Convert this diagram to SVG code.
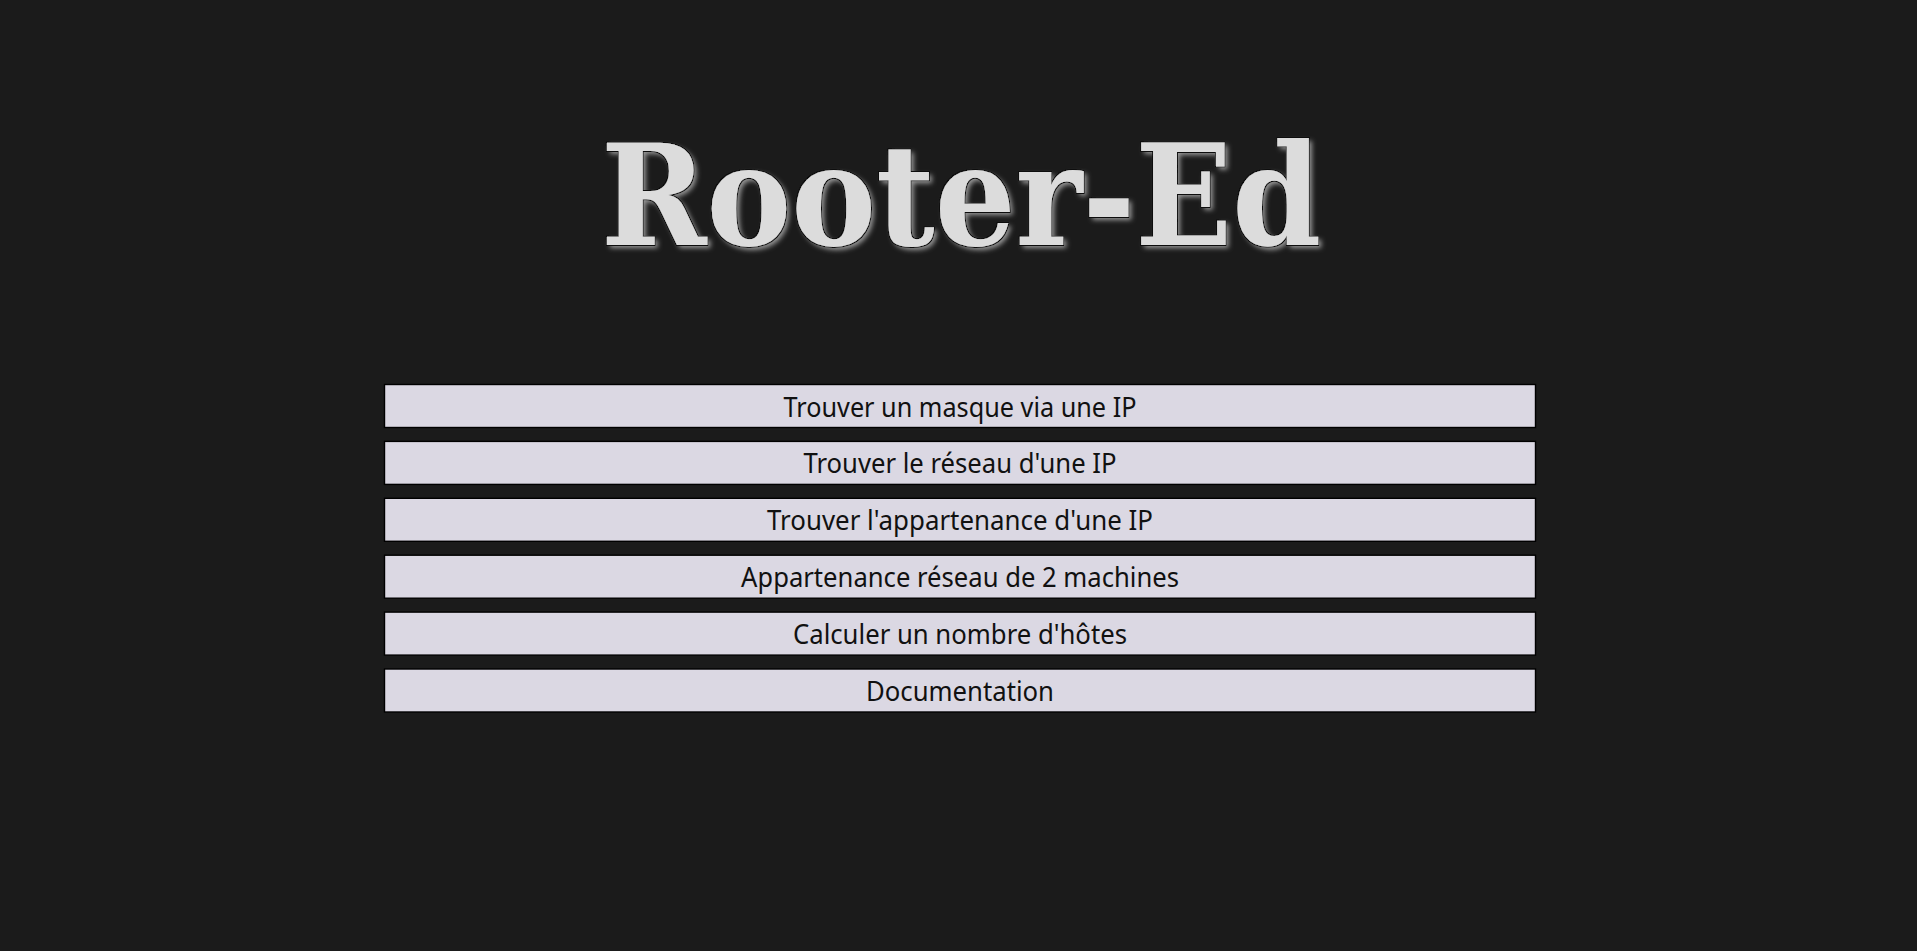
<svg xmlns="http://www.w3.org/2000/svg" width="1917" height="951" viewBox="0 0 1917 951">
<defs>
<style>
.bg{fill:#1b1b1b}
.btn rect{fill:#dbd8e3;stroke:#000;stroke-width:1.4}
.btn text{font-family:"Noto Sans","Open Sans","DejaVu Sans",sans-serif;font-size:27px;fill:#111;text-anchor:middle}
.title{font-family:"DejaVu Serif Condensed","DejaVu Serif",serif;font-weight:bold;font-stretch:condensed;font-size:141px;fill:#dcdcdc;text-anchor:middle}
</style>
<filter id="ts" x="-10%" y="-20%" width="120%" height="140%">
<feOffset in="SourceAlpha" dx="3" dy="3" result="o"/>
<feGaussianBlur in="o" stdDeviation="2.5" result="b"/>
<feFlood flood-color="#9a9a9a"/>
<feComposite in2="b" operator="in" result="sh"/>
<feMorphology in="SourceAlpha" operator="dilate" radius="1.2" result="d"/>
<feFlood flood-color="#0a0a0a"/>
<feComposite in2="d" operator="in" result="ol"/>
<feMerge><feMergeNode in="sh"/><feMergeNode in="ol"/><feMergeNode in="SourceGraphic"/></feMerge>
</filter>
</defs>
<rect class="bg" x="0" y="0" width="1917" height="951"/>
<g id="title">
<text class="title" x="961" y="245" textLength="720" lengthAdjust="spacingAndGlyphs" filter="url(#ts)">Rooter-Ed</text>
</g>
<g id="connectors"></g>
<g id="btn1" class="btn"><rect x="384.5" y="384.5" width="1151" height="43"/><text x="960" y="416.5" textLength="353" lengthAdjust="spacingAndGlyphs">Trouver un masque via une IP</text></g>
<g id="btn2" class="btn"><rect x="384.5" y="441.4" width="1151" height="43"/><text x="960" y="473.4" textLength="313" lengthAdjust="spacingAndGlyphs">Trouver le réseau d'une IP</text></g>
<g id="btn3" class="btn"><rect x="384.5" y="498.3" width="1151" height="43"/><text x="960" y="530.3" textLength="386" lengthAdjust="spacingAndGlyphs">Trouver l'appartenance d'une IP</text></g>
<g id="btn4" class="btn"><rect x="384.5" y="555.2" width="1151" height="43"/><text x="960" y="587.2" textLength="438" lengthAdjust="spacingAndGlyphs">Appartenance réseau de 2 machines</text></g>
<g id="btn5" class="btn"><rect x="384.5" y="612.1" width="1151" height="43"/><text x="960" y="644.1" textLength="334" lengthAdjust="spacingAndGlyphs">Calculer un nombre d'hôtes</text></g>
<g id="btn6" class="btn"><rect x="384.5" y="669" width="1151" height="43"/><text x="960" y="701" textLength="188" lengthAdjust="spacingAndGlyphs">Documentation</text></g>
</svg>
